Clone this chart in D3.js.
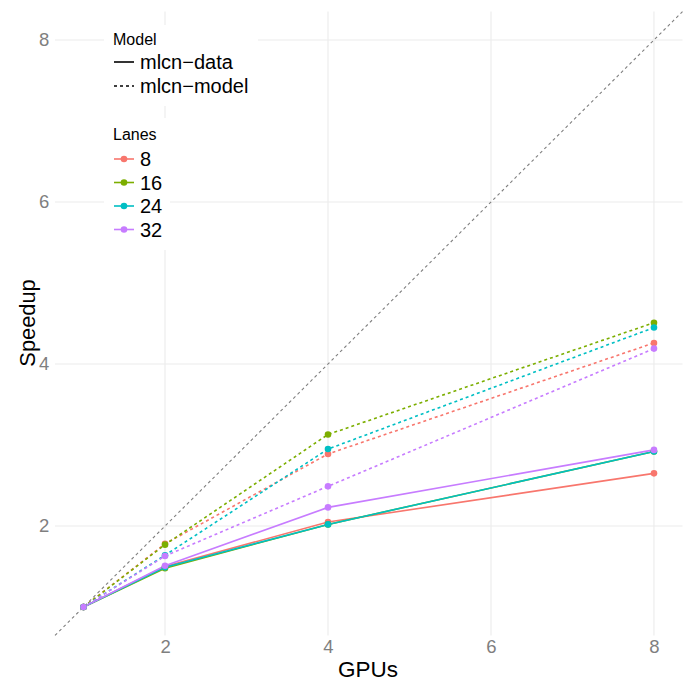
<!DOCTYPE html>
<html>
<head>
<meta charset="utf-8">
<script src="https://cdn.jsdelivr.net/npm/d3@7"></script>
<style>
  body { margin: 0; background: #fff; }
  svg { font-family: "Liberation Sans", Arial, sans-serif; }
</style>
</head>
<body>
<svg id="chart" width="689" height="689"></svg>
<script>
// ---- data ----
const gpus = [1, 2, 4, 8];
const lanes = ["8", "16", "24", "32"];
const models = ["mlcn-data", "mlcn-model"];
const laneColors = ["#F8766D", "#7CAE00", "#00BFC4", "#C77CFF"];
const xTicks = [2, 4, 6, 8];
const yTicks = [2, 4, 6, 8];

// speedup for mlcn-data, per lane
const data8  = [1.0, 1.50, 2.05, 2.65];
const data16 = [1.0, 1.48, 2.02, 2.92];
const data24 = [1.0, 1.49, 2.02, 2.92];
const data32 = [1.0, 1.51, 2.23, 2.94];
// speedup for mlcn-model, per lane
const model8  = [1.0, 1.78, 2.89, 4.26];
const model16 = [1.0, 1.77, 3.13, 4.51];
const model24 = [1.0, 1.64, 2.95, 4.45];
const model32 = [1.0, 1.63, 2.49, 4.19];

const series = [
  { model: "mlcn-data", lane: "8", values: data8 },
  { model: "mlcn-data", lane: "16", values: data16 },
  { model: "mlcn-data", lane: "24", values: data24 },
  { model: "mlcn-data", lane: "32", values: data32 },
  { model: "mlcn-model", lane: "8", values: model8 },
  { model: "mlcn-model", lane: "16", values: model16 },
  { model: "mlcn-model", lane: "24", values: model24 },
  { model: "mlcn-model", lane: "32", values: model32 }
];

// ---- layout ----
const svg = d3.select("#chart");
const x = d3.scaleLinear().domain([0.65, 8.35]).range([55, 682.5]);
const y = d3.scaleLinear().domain([0.65, 8.35]).range([635.4, 11.6]);
const color = d3.scaleOrdinal().domain(lanes).range(laneColors);
const dash = d3.scaleOrdinal().domain(models).range(["none", "3,3"]);

// gridlines
const grid = svg.append("g");
grid.selectAll(".gx").data(xTicks).join("line")
  .attr("x1", d => x(d)).attr("x2", d => x(d))
  .attr("y1", y.range()[0]).attr("y2", y.range()[1])
  .attr("stroke", "#EBEBEB").attr("stroke-width", 1.1);
grid.selectAll(".gy").data(yTicks).join("line")
  .attr("y1", d => y(d)).attr("y2", d => y(d))
  .attr("x1", x.range()[0]).attr("x2", x.range()[1])
  .attr("stroke", "#EBEBEB").attr("stroke-width", 1.1);

// axes (labels only)
const xAxis = svg.append("g").attr("transform", `translate(0,${y.range()[0]})`)
  .call(d3.axisBottom(x).tickValues(xTicks).tickSize(0).tickPadding(4.6).tickFormat(d3.format("d")));
const yAxis = svg.append("g").attr("transform", `translate(${x.range()[0]},0)`)
  .call(d3.axisLeft(y).tickValues(yTicks).tickSize(0).tickPadding(5.7).tickFormat(d3.format("d")));
[xAxis, yAxis].forEach(a => {
  a.select(".domain").remove();
  a.selectAll("text").attr("fill", "#7F7F7F").style("font-size", "18.5px")
    .style("font-family", "Liberation Sans, Arial, sans-serif");
});

// identity line
svg.append("line")
  .attr("x1", x(0.65)).attr("y1", y(0.65))
  .attr("x2", x(8.35)).attr("y2", y(8.35))
  .attr("stroke", "#7F7F7F").attr("stroke-width", 1.1).attr("stroke-dasharray", "3,3");

// lines
const line = d3.line().x((d, i) => x(gpus[i])).y(d => y(d));
svg.append("g").selectAll("path").data(series).join("path")
  .attr("d", d => line(d.values))
  .attr("fill", "none")
  .attr("stroke", d => color(d.lane))
  .attr("stroke-width", 1.6)
  .attr("stroke-dasharray", d => dash(d.model));

// points
const pts = svg.append("g");
series.forEach(s => {
  pts.selectAll(null).data(s.values).join("circle")
    .attr("cx", (d, i) => x(gpus[i])).attr("cy", d => y(d))
    .attr("r", 3.3).attr("fill", color(s.lane));
});

// axis titles
svg.append("text").attr("x", 368).attr("y", 677)
  .attr("text-anchor", "middle").style("font-size", "22.5px").attr("fill", "#000").text("GPUs");
svg.append("text")
  .attr("transform", `translate(34.5,323) rotate(-90)`)
  .attr("text-anchor", "middle").style("font-size", "21.8px").attr("fill", "#000").text("Speedup");

// legends
const lg = svg.append("g");
lg.append("rect").attr("x", 104).attr("y", 25).attr("width", 154).attr("height", 81).attr("fill", "#fff");
lg.append("rect").attr("x", 104).attr("y", 118).attr("width", 66).attr("height", 132).attr("fill", "#fff");

lg.append("text").attr("x", 113).attr("y", 45).style("font-size", "16px").text("Model");
models.forEach((m, i) => {
  const yy = 62 + i * 24;
  lg.append("line").attr("x1", 114).attr("x2", 134).attr("y1", yy).attr("y2", yy)
    .attr("stroke", "#000").attr("stroke-width", 1.6).attr("stroke-dasharray", dash(m));
  lg.append("text").attr("x", 140).attr("y", yy + 7).style("font-size", "20px").text(m.replace("-", "\u2212"));
});

lg.append("text").attr("x", 113).attr("y", 140).style("font-size", "16px").text("Lanes");
lanes.forEach((l, i) => {
  const yy = 159 + i * 23.5;
  lg.append("line").attr("x1", 114).attr("x2", 134).attr("y1", yy).attr("y2", yy)
    .attr("stroke", color(l)).attr("stroke-width", 1.6);
  lg.append("circle").attr("cx", 124).attr("cy", yy).attr("r", 3.3).attr("fill", color(l));
  lg.append("text").attr("x", 140).attr("y", yy + 7).style("font-size", "20px").text(l);
});
</script>
</body>
</html>
